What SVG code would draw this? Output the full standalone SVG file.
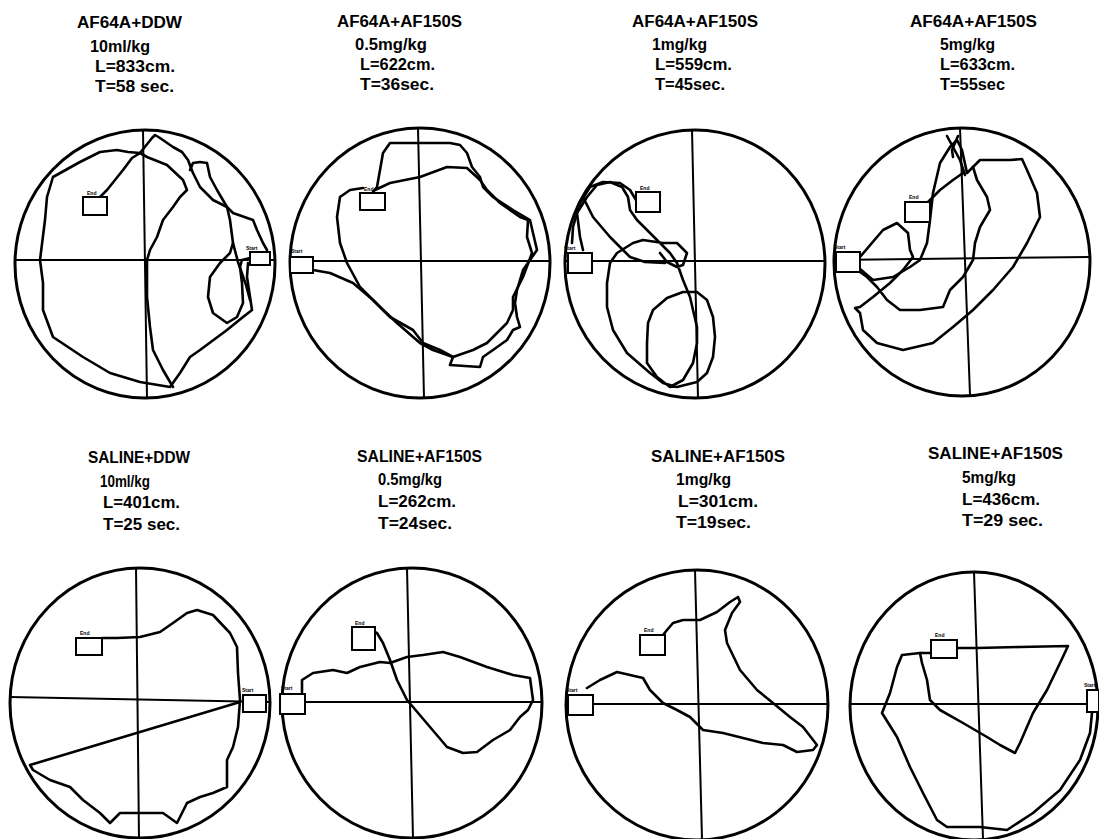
<svg xmlns="http://www.w3.org/2000/svg" width="1099" height="839" viewBox="0 0 1099 839">
<style>
.t{font-family:"Liberation Sans",Arial,sans-serif;font-weight:bold;font-size:16px;fill:#000}
.s{font-family:"Liberation Sans",Arial,sans-serif;font-weight:bold;font-size:5px;fill:#000}
.c{fill:none;stroke:#000;stroke-width:3}
.a{stroke:#000;stroke-width:2;fill:none}
.p{fill:none;stroke:#000;stroke-width:2.6;stroke-linejoin:round;stroke-linecap:round}
.b{fill:#fff;stroke:#000;stroke-width:2}
</style>
<rect width="1099" height="839" fill="#fff"/>

<g id="panel1">
<text class="t" x="77" y="28" textLength="105" lengthAdjust="spacingAndGlyphs">AF64A+DDW</text>
<text class="t" x="90" y="52" textLength="60" lengthAdjust="spacingAndGlyphs">10ml/kg</text>
<text class="t" x="95" y="72" textLength="80" lengthAdjust="spacingAndGlyphs">L=833cm.</text>
<text class="t" x="95" y="92" textLength="79" lengthAdjust="spacingAndGlyphs">T=58 sec.</text>
<ellipse class="c" cx="145" cy="264" rx="130" ry="134"/>
<line class="a" x1="15" y1="260" x2="275" y2="260"/>
<line class="a" x1="143" y1="130" x2="147" y2="398"/>
<polyline class="p" points="100,197 107,190 123,170 132,158 140,153 128,152 117,150 100,152 80,162 53,177 47,197 45,220 40,260 43,283 43,310 53,337 83,357 110,373 140,382 170,387 180,373 190,357 200,350 227,330 243,317 252,310 247,277 248,263"/>
<polyline class="p" points="140,153 152,138 155,135 160,138 173,147 182,152 188,160 193,173 200,187 213,200 227,207 233,213 253,220 257,230 263,243 267,250"/>
<polyline class="p" points="140,153 147,157 167,165 183,180 187,190 180,197 173,207 163,220 157,237 150,250 147,260 147,277 147,297 150,327 153,350 163,370 173,387"/>
<polyline class="p" points="190,170 193,163 200,162 207,163 210,177 217,190 227,207 230,220 233,243 230,253 220,263 210,277 208,297 213,313 227,323 237,317 243,303 242,283 240,267 242,260 250,258"/>
<polyline class="p" points="233,243 238,262 246,285 250,300"/>
<rect class="b" x="83" y="197" width="24" height="18"/>
<text class="s" x="87" y="195">End</text>
<rect class="b" x="250" y="252" width="20" height="13"/>
<text class="s" x="246" y="250">Start</text>
</g>

<g id="panel2">
<text class="t" x="337" y="27" textLength="125" lengthAdjust="spacingAndGlyphs">AF64A+AF150S</text>
<text class="t" x="355" y="50" textLength="72" lengthAdjust="spacingAndGlyphs">0.5mg/kg</text>
<text class="t" x="360" y="70" textLength="75" lengthAdjust="spacingAndGlyphs">L=622cm.</text>
<text class="t" x="360" y="90" textLength="74" lengthAdjust="spacingAndGlyphs">T=36sec.</text>
<ellipse class="c" cx="420" cy="263" rx="130" ry="135"/>
<line class="a" x1="290" y1="261" x2="550" y2="261"/>
<line class="a" x1="418" y1="128" x2="424" y2="398"/>
<polyline class="p" points="313,270 330,273 353,283 373,300 390,317 413,330 423,343 440,350 453,357 450,365 480,367 483,357 493,350 507,340 513,330 520,327 517,317 515,303 517,290 523,270 530,260 537,250 533,233 530,220 513,210 493,197 483,187 480,177 472,167 467,153 460,145 450,143 420,143 390,143 383,153 380,170 377,187 373,192"/>
<polyline class="p" points="375,190 390,183 420,177 447,167 467,168 480,180 487,190 500,203 520,217 528,220 527,237 532,253 523,277 513,297 513,310 507,323 487,343 473,350 453,357 433,350 420,343 397,323 380,307 360,287 347,263 340,243 337,217 340,197 350,190 363,188"/>
<rect class="b" x="360" y="193" width="25" height="17"/>
<text class="s" x="364" y="191">End</text>
<rect class="b" x="290" y="257" width="23" height="16"/>
<text class="s" x="291" y="253">Start</text>
</g>

<g id="panel3">
<text class="t" x="632" y="27" textLength="126" lengthAdjust="spacingAndGlyphs">AF64A+AF150S</text>
<text class="t" x="652" y="50" textLength="55" lengthAdjust="spacingAndGlyphs">1mg/kg</text>
<text class="t" x="655" y="70" textLength="77" lengthAdjust="spacingAndGlyphs">L=559cm.</text>
<text class="t" x="655" y="90" textLength="70" lengthAdjust="spacingAndGlyphs">T=45sec.</text>
<ellipse class="c" cx="695" cy="264" rx="130" ry="134"/>
<line class="a" x1="565" y1="261" x2="825" y2="261"/>
<line class="a" x1="692" y1="130" x2="698" y2="398"/>
<polyline class="p" points="583,250 580,237 577,213 587,197 597,185 610,182 622,187 628,197 630,210 637,220 650,233 660,243 670,253 677,263 683,280 690,297 693,310 697,327 697,343 693,363 683,380 670,387 657,377 647,363 647,343 648,323 653,310 667,298 683,292 697,292 707,300 713,317 715,337 713,357 707,373 697,382 677,387 663,383 650,373 627,353 613,330 607,307 607,283 610,263 617,253 633,243 643,240 663,243 677,243 687,253 683,265 677,267 667,262 660,253"/>
<polyline class="p" points="583,197 593,217 610,237 623,250 630,257 645,262 665,263"/>
<polyline class="p" points="636,200 630,190 620,183 603,182 590,187 580,203 573,227 572,243"/>
<rect class="b" x="636" y="192" width="24" height="20"/>
<text class="s" x="640" y="190">End</text>
<rect class="b" x="568" y="253" width="24" height="20"/>
<text class="s" x="564" y="250">Start</text>
</g>

<g id="panel4">
<text class="t" x="910" y="27" textLength="127" lengthAdjust="spacingAndGlyphs">AF64A+AF150S</text>
<text class="t" x="940" y="50" textLength="55" lengthAdjust="spacingAndGlyphs">5mg/kg</text>
<text class="t" x="940" y="70" textLength="75" lengthAdjust="spacingAndGlyphs">L=633cm.</text>
<text class="t" x="940" y="90" textLength="65" lengthAdjust="spacingAndGlyphs">T=55sec</text>
<ellipse class="c" cx="962" cy="262" rx="128" ry="134"/>
<line class="a" x1="834" y1="260" x2="1090" y2="257"/>
<line class="a" x1="960" y1="128" x2="970" y2="395"/>
<polyline class="p" points="860,257 883,230 897,223 908,233 910,250 913,257 903,270 890,283 873,297 860,307 855,308 860,313 863,330 877,343 903,350 933,343 953,327 973,310 993,290 1013,267 1027,243 1040,217 1037,193 1027,170 1022,159 1010,160 980,160 973,167 977,180 987,197 990,210 980,227 975,243 973,260 963,277 950,290 943,307 920,310 900,310 887,300 877,287 867,277 853,267"/>
<polyline class="p" points="853,263 873,280 893,277 910,267 920,260 927,243 930,220 933,193 940,163 950,147 957,140 962,150 967,173 973,167"/>
<polyline class="p" points="947,136 960,160 965,175"/>
<polyline class="p" points="958,136 952,150 953,157"/>
<polyline class="p" points="963,173 953,180 940,190 933,197 927,203"/>
<rect class="b" x="905" y="202" width="25" height="20"/>
<text class="s" x="909" y="199">End</text>
<rect class="b" x="836" y="252" width="24" height="20"/>
<text class="s" x="834" y="249">Start</text>
</g>

<g id="panel5">
<text class="t" x="88" y="463" textLength="102" lengthAdjust="spacingAndGlyphs">SALINE+DDW</text>
<text class="t" x="100" y="487" textLength="50" lengthAdjust="spacingAndGlyphs">10ml/kg</text>
<text class="t" x="103" y="508" textLength="77" lengthAdjust="spacingAndGlyphs">L=401cm.</text>
<text class="t" x="103" y="530" textLength="77" lengthAdjust="spacingAndGlyphs">T=25 sec.</text>
<ellipse class="c" cx="140" cy="703" rx="130" ry="135"/>
<line class="a" x1="10" y1="697" x2="270" y2="702"/>
<line class="a" x1="136" y1="567" x2="139" y2="839"/>
<polyline class="p" points="102,638 117,638 140,637 160,632 173,623 187,613 197,610 213,615 230,633 237,647 238,673 240,700 238,727 233,747 227,760 227,787 213,793 200,797 187,803 177,823 163,813 143,813 133,813 120,813 110,823 100,813 83,800 70,787 50,780 33,770 30,765 240,702"/>
<rect class="b" x="76" y="638" width="26" height="17"/>
<text class="s" x="80" y="635">End</text>
<rect class="b" x="243" y="695" width="23" height="17"/>
<text class="s" x="242" y="692">Start</text>
</g>

<g id="panel6">
<text class="t" x="357" y="462" textLength="125" lengthAdjust="spacingAndGlyphs">SALINE+AF150S</text>
<text class="t" x="378" y="485" textLength="64" lengthAdjust="spacingAndGlyphs">0.5mg/kg</text>
<text class="t" x="378" y="507" textLength="78" lengthAdjust="spacingAndGlyphs">L=262cm.</text>
<text class="t" x="378" y="529" textLength="74" lengthAdjust="spacingAndGlyphs">T=24sec.</text>
<ellipse class="c" cx="412" cy="703" rx="130" ry="135"/>
<line class="a" x1="282" y1="702" x2="542" y2="702"/>
<line class="a" x1="407" y1="568" x2="413" y2="839"/>
<polyline class="p" points="302,692 302,680 313,673 333,670 347,673 360,667 380,662 390,663 407,657 423,655 443,652 460,657 487,667 513,675 530,678 533,700 528,710 520,717 510,730 493,740 477,752 463,753 447,747 430,727 413,707 407,700 397,680 390,660 383,643 377,633 372,630"/>
<rect class="b" x="352" y="627" width="23" height="23"/>
<text class="s" x="355" y="625">End</text>
<rect class="b" x="280" y="694" width="25" height="20"/>
<text class="s" x="281" y="690">Start</text>
</g>

<g id="panel7">
<text class="t" x="651" y="462" textLength="134" lengthAdjust="spacingAndGlyphs">SALINE+AF150S</text>
<text class="t" x="676" y="485" textLength="55" lengthAdjust="spacingAndGlyphs">1mg/kg</text>
<text class="t" x="678" y="507" textLength="80" lengthAdjust="spacingAndGlyphs">L=301cm.</text>
<text class="t" x="676" y="528" textLength="75" lengthAdjust="spacingAndGlyphs">T=19sec.</text>
<ellipse class="c" cx="697" cy="705" rx="131" ry="135"/>
<line class="a" x1="567" y1="704" x2="828" y2="704"/>
<line class="a" x1="695" y1="570" x2="702" y2="839"/>
<polyline class="p" points="587,688 600,680 617,672 630,675 643,678 650,690 657,697 663,703 677,710 690,717 703,730 723,733 743,738 763,743 783,745 797,752 813,750 817,745 803,727 790,717 773,703 757,690 740,670 727,643 725,630 732,613 740,602 738,597 730,602 717,612 700,620 683,620 673,623 667,630 663,635"/>
<rect class="b" x="640" y="635" width="25" height="20"/>
<text class="s" x="644" y="632">End</text>
<rect class="b" x="568" y="695" width="25" height="20"/>
<text class="s" x="566" y="692">Start</text>
</g>

<g id="panel8">
<text class="t" x="928" y="459" textLength="135" lengthAdjust="spacingAndGlyphs">SALINE+AF150S</text>
<text class="t" x="962" y="483" textLength="54" lengthAdjust="spacingAndGlyphs">5mg/kg</text>
<text class="t" x="962" y="505" textLength="78" lengthAdjust="spacingAndGlyphs">L=436cm.</text>
<text class="t" x="962" y="526" textLength="81" lengthAdjust="spacingAndGlyphs">T=29 sec.</text>
<ellipse class="c" cx="974" cy="706" rx="124" ry="134"/>
<line class="a" x1="850" y1="704" x2="1098" y2="704"/>
<line class="a" x1="974" y1="572" x2="983" y2="839"/>
<polyline class="p" points="957,648 977,648 1020,647 1068,646 1060,663 1047,690 1033,713 1020,743 1015,753 1000,745 987,737 963,723 940,710 930,700 927,680 922,663 920,653 930,653"/>
<polyline class="p" points="920,653 902,655 897,667 890,693 882,713 897,737 910,767 923,793 937,820 947,827 980,827 1007,830 1033,813 1060,790 1080,760 1090,733 1092,713"/>
<rect class="b" x="931" y="640" width="26" height="18"/>
<text class="s" x="935" y="637">End</text>
<rect class="b" x="1087" y="690" width="12" height="22"/>
<text class="s" x="1084" y="687">Start</text>
</g>
</svg>
